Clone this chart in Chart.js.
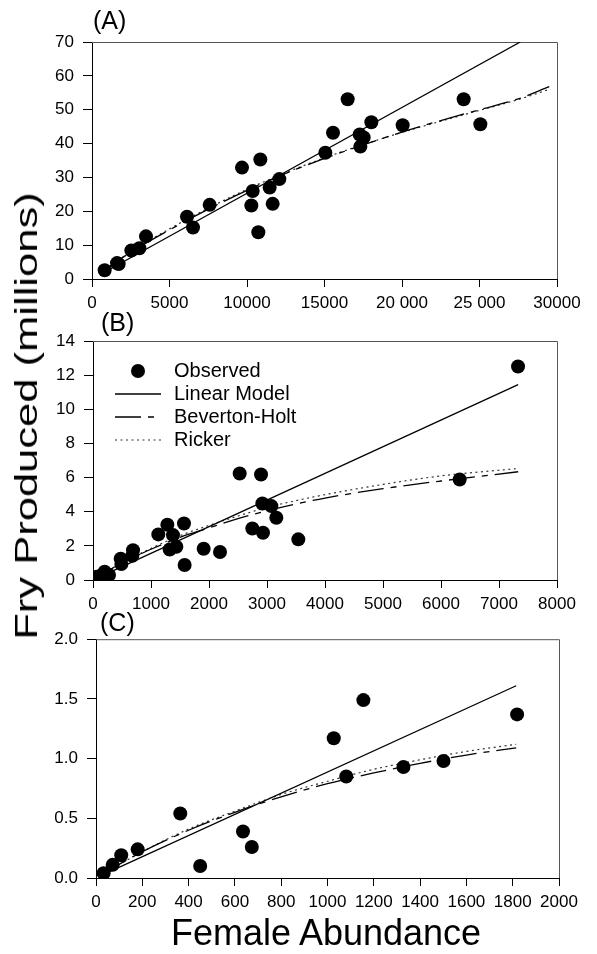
<!DOCTYPE html>
<html>
<head>
<meta charset="utf-8">
<script src="https://cdn.jsdelivr.net/npm/chart.js@4.4.0/dist/chart.umd.min.js"></script>
<style>
  body { margin: 0; background: #fff; width: 597px; height: 954px; position: relative; overflow: hidden;
         font-family: "Liberation Sans", Arial, sans-serif; color: #000; }
  canvas { position: absolute; left: 0; }
  .txt { position: absolute; white-space: nowrap; line-height: 1; }
</style>
</head>
<body>
<canvas id="chartA" width="597" height="312" style="top:0"></canvas>
<canvas id="chartB" width="597" height="308" style="top:312px"></canvas>
<canvas id="chartC" width="597" height="300" style="top:620px"></canvas>

<div class="txt" style="left:93px;top:8px;font-size:25px">(A)</div>
<div class="txt" style="left:101px;top:310px;font-size:25px">(B)</div>
<div class="txt" style="left:100px;top:610px;font-size:25px">(C)</div>
<div class="txt" style="left:26px;top:416px;font-size:32px;transform:translate(-50%,-50%) rotate(-90deg) scaleX(1.36)">Fry Produced (millions)</div>
<div class="txt" style="left:326px;top:915px;font-size:36px;transform:translateX(-50%)">Female Abundance</div>

<script>
// ---- panel A ----
const obsAx = [817, 1613, 1720, 2538, 3054, 3484, 6129, 6516, 7591, 9677, 10366, 10280, 10860, 10731,
               11462, 11656, 12086, 15054, 15548, 16495, 17269, 17527, 17312, 18022, 20043, 23978, 25054];
const obsAy = [2.6, 4.7, 4.4, 8.4, 9.1, 12.6, 18.4, 15.2, 21.9, 32.9, 26.0, 21.7, 35.3, 13.8,
               27.0, 22.2, 29.5, 37.3, 43.2, 53.1, 42.7, 41.8, 39.1, 46.3, 45.4, 53.1, 45.7];
const linAx = [800, 27630];
const linAy = [2.0, 70];
const curveAx = [800, 2500, 5000, 7500, 10000, 12500, 15000, 17500, 20000, 22500, 25000, 27500, 29500];
const bevAy = [2.6, 7.9, 14.5, 20.6, 26.2, 31.2, 35.6, 39.6, 43.4, 46.8, 50.0, 53.2, 56.8];
const rickAy = [2.6, 8.0, 14.8, 20.9, 26.5, 31.4, 35.8, 39.7, 43.3, 46.6, 49.8, 53.0, 56.0];
const xTicksA = ['0', '5000', '10000', '15000', '20 000', '25 000', '30000'];

// ---- panel B ----
const obsBx = [69, 126, 201, 276, 477, 489, 690, 678, 1126, 1282, 1322, 1379, 1437, 1569, 1580,
               1908, 2190, 2529, 2747, 2897, 2920, 2931, 3075, 3161, 3540, 6322, 7328];
const obsBy = [0.19, 0.23, 0.49, 0.29, 1.25, 0.94, 1.75, 1.42, 2.67, 3.24, 1.79, 2.63, 1.95, 3.31, 0.88,
               1.83, 1.64, 6.24, 3.02, 6.18, 4.48, 2.77, 4.33, 3.65, 2.38, 5.89, 12.51];
const linBx = [70, 7330];
const linBy = [0.11, 11.44];
const curveBx = [70, 500, 1000, 1500, 2000, 2500, 3000, 3500, 4000, 5000, 6000, 7330];
const bevBy = [0.15, 1.0, 1.8, 2.5, 3.05, 3.6, 4.05, 4.45, 4.8, 5.35, 5.8, 6.34];
const rickBy = [0.15, 1.0, 1.85, 2.6, 3.2, 3.75, 4.25, 4.65, 5.0, 5.6, 6.1, 6.53];

// ---- panel C ----
const obsCx = [33, 72, 109, 180, 364, 450, 635, 673, 1027, 1081, 1155, 1328, 1501, 1819];
const obsCy = [0.04, 0.11, 0.19, 0.24, 0.54, 0.10, 0.39, 0.26, 1.17, 0.85, 1.49, 0.93, 0.98, 1.37];
const linCx = [33, 1815];
const linCy = [0.03, 1.61];
const curveCx = [33, 200, 400, 600, 800, 1000, 1200, 1400, 1600, 1815];
const bevCy = [0.04, 0.22, 0.40, 0.55, 0.68, 0.79, 0.88, 0.96, 1.03, 1.09];
const rickCy = [0.04, 0.22, 0.41, 0.56, 0.70, 0.81, 0.91, 0.99, 1.06, 1.12];

const seriesNames = ['Observed', 'Linear Model', 'Beverton-Holt', 'Ricker'];
const bevDash = [26, 7, 6, 7];
const rickDash = [2, 3.5];

const FONT = "'Liberation Sans', Arial, sans-serif";

function pts(xs, ys) {
  return xs.map((x, i) => ({ x: x, y: ys[i] }));
}

function makeDatasets(ox, oy, lx, ly, cx, by, ry) {
  return [
    { label: seriesNames[0], data: pts(ox, oy), pointRadius: 7, pointBackgroundColor: '#000',
      pointBorderWidth: 0, showLine: false, order: 0 },
    { label: seriesNames[1], data: pts(lx, ly), showLine: true, pointRadius: 0, borderColor: '#000',
      borderWidth: 1.3, order: 1 },
    { label: seriesNames[2], data: pts(cx, by), showLine: true, pointRadius: 0, borderColor: '#000',
      borderWidth: 1.3, borderDash: bevDash, cubicInterpolationMode: 'monotone', order: 2 },
    { label: seriesNames[3], data: pts(cx, ry), showLine: true, pointRadius: 0, borderColor: '#333',
      borderWidth: 1.2, borderDash: rickDash, cubicInterpolationMode: 'monotone', order: 3 }
  ];
}

// top and right edges of the box
const framePlugin = {
  id: 'frame',
  beforeDatasetsDraw(chart) {
    const a = chart.chartArea, ctx = chart.ctx;
    ctx.save();
    ctx.strokeStyle = '#555';
    ctx.lineWidth = 1;
    ctx.beginPath();
    ctx.moveTo(a.left, a.top + 0.5);
    ctx.lineTo(a.right + 0.5, a.top + 0.5);
    ctx.lineTo(a.right + 0.5, a.bottom);
    ctx.stroke();
    ctx.restore();
  }
};

// legend sitting inside panel B
const legendPlugin = {
  id: 'innerLegend',
  afterDatasetsDraw(chart, args, opts) {
    if (!opts.show) return;
    const a = chart.chartArea, ctx = chart.ctx;
    const rows = [30, 53, 76, 99];
    ctx.save();
    ctx.fillStyle = '#000';
    ctx.font = '20px ' + FONT;
    ctx.textBaseline = 'middle';
    chart.data.datasets.forEach((ds, i) => {
      const y = a.top + rows[i];
      if (i === 0) {
        ctx.beginPath();
        ctx.arc(a.left + 45, y, 7, 0, Math.PI * 2);
        ctx.fill();
      } else {
        ctx.strokeStyle = ds.borderColor;
        ctx.lineWidth = ds.borderWidth;
        ctx.setLineDash(ds.borderDash || []);
        ctx.beginPath();
        ctx.moveTo(a.left + 22, y);
        ctx.lineTo(a.left + 68, y);
        ctx.stroke();
        ctx.setLineDash([]);
      }
      ctx.fillText(ds.label, a.left + 81, y);
    });
    ctx.restore();
  }
};

function makeChart(id, cfg) {
  const canvas = document.getElementById(id);
  const h = canvas.height;
  return new Chart(canvas, {
    type: 'scatter',
    data: { datasets: cfg.datasets },
    plugins: [framePlugin, legendPlugin],
    options: {
      responsive: false,
      animation: false,
      layout: { padding: { left: 0, top: cfg.top, right: 597 - cfg.right, bottom: 0 } },
      plugins: {
        legend: { display: false },
        tooltip: { enabled: false },
        innerLegend: { show: !!cfg.legend }
      },
      scales: {
        x: {
          type: 'linear', min: cfg.xMin, max: cfg.xMax,
          afterFit: s => { s.height = h - cfg.bottom; },
          grid: { drawOnChartArea: false, drawTicks: true, tickLength: 8, color: '#000', lineWidth: 1 },
          border: { display: true, color: '#000', width: 1 },
          ticks: {
            stepSize: cfg.xStep, autoSkip: false, maxRotation: 0, padding: 6, color: '#000',
            font: { family: FONT, size: 17 },
            callback: cfg.xLabel
          }
        },
        y: {
          type: 'linear', min: cfg.yMin, max: cfg.yMax,
          afterFit: s => { s.width = cfg.left; },
          grid: { drawOnChartArea: false, drawTicks: true, tickLength: 9, color: '#000', lineWidth: 1 },
          border: { display: true, color: '#000', width: 1 },
          ticks: {
            stepSize: cfg.yStep, autoSkip: false, padding: 9, color: '#000',
            font: { family: FONT, size: 17 },
            callback: cfg.yLabel
          }
        }
      }
    }
  });
}

makeChart('chartA', {
  datasets: makeDatasets(obsAx, obsAy, linAx, linAy, curveAx, bevAy, rickAy),
  left: 92, right: 557, top: 42, bottom: 279,
  xMin: 0, xMax: 30000, xStep: 5000, yMin: 0, yMax: 70, yStep: 10,
  xLabel: (v, i) => xTicksA[i],
  yLabel: v => String(v)
});

makeChart('chartB', {
  datasets: makeDatasets(obsBx, obsBy, linBx, linBy, curveBx, bevBy, rickBy),
  left: 93, right: 557, top: 29, bottom: 268, legend: true,
  xMin: 0, xMax: 8000, xStep: 1000, yMin: 0, yMax: 14, yStep: 2,
  xLabel: v => String(v),
  yLabel: v => String(v)
});

makeChart('chartC', {
  datasets: makeDatasets(obsCx, obsCy, linCx, linCy, curveCx, bevCy, rickCy),
  left: 96, right: 559, top: 19, bottom: 258,
  xMin: 0, xMax: 2000, xStep: 200, yMin: 0, yMax: 2, yStep: 0.5,
  xLabel: v => String(v),
  yLabel: v => v.toFixed(1)
});
</script>
</body>
</html>
